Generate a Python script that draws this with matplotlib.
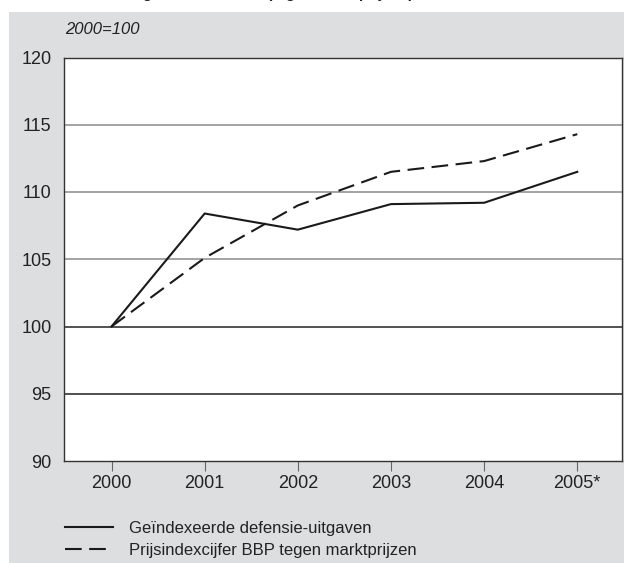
import matplotlib.pyplot as plt
from matplotlib.patches import Rectangle

plt.rcParams['font.family'] = ['Liberation Sans', 'DejaVu Sans']

years = ["2000", "2001", "2002", "2003", "2004", "2005*"]
defensie = [100, 108.4, 107.2, 109.1, 109.2, 111.5]
bbp_prijs = [100, 105.1, 109.0, 111.5, 112.3, 114.3]
y_ticks = [90, 95, 100, 105, 110, 115, 120]

bg = "#dddee0"

fig = plt.figure(figsize=(6.24, 5.63), dpi=100)
fig.patch.set_facecolor("white")
fig.patches.append(Rectangle((9 / 624, 0), 1, 1 - 12 / 563, transform=fig.transFigure,
                             facecolor=bg, edgecolor="none", zorder=-10))

# title cut off at the top edge, as in the source
fig.text(55 / 624, 1.010, "Defensie-uitgaven en inflatie (tegen marktprijzen)",
         fontsize=11, fontweight="bold", color="#222222", va="center", ha="left")

ax = fig.add_axes([64 / 624, 1 - 461 / 563, (622 - 64) / 624, (461 - 57.5) / 563])
ax.set_facecolor("white")

x = list(range(len(years)))
ax.plot(x, defensie, color="#1a1a1a", lw=1.5, solid_joinstyle="miter",
        label="Geïndexeerde defensie-uitgaven", zorder=3)
ax.plot(x, bbp_prijs, color="#1a1a1a", lw=1.5, dashes=(8, 3.6),
        label="Prijsindexcijfer BBP tegen marktprijzen", zorder=3)

for v in y_ticks[1:-1]:
    c = "#222222" if v in (95, 100) else "#8a8a8a"
    ax.axhline(v, color=c, lw=1.1, zorder=1)

ax.set_xlim(-0.51, 5.48)
ax.set_ylim(90, 120)
ax.set_yticks(y_ticks)
ax.set_xticks(x)
ax.set_xticklabels(years)
ax.tick_params(axis="y", length=0, pad=9, labelsize=13, labelcolor="#222222")
ax.tick_params(axis="x", length=7, width=0.8, color="#666666", pad=3,
               labelsize=13, labelcolor="#222222")
for s in ax.spines.values():
    s.set_color("#333333")
    s.set_linewidth(1.0)

fig.text(65 / 624, 1 - 30 / 563, "2000=100", fontsize=12, style="italic",
         color="#222222", va="center")

fig.legend(loc="upper left", bbox_to_anchor=(50 / 624, 1 - 506 / 563), frameon=False,
           fontsize=12, handlelength=2.9, handletextpad=0.95, labelspacing=0.39,
           labelcolor="#222222")

fig.savefig("out.png", dpi=100, facecolor=fig.get_facecolor())
